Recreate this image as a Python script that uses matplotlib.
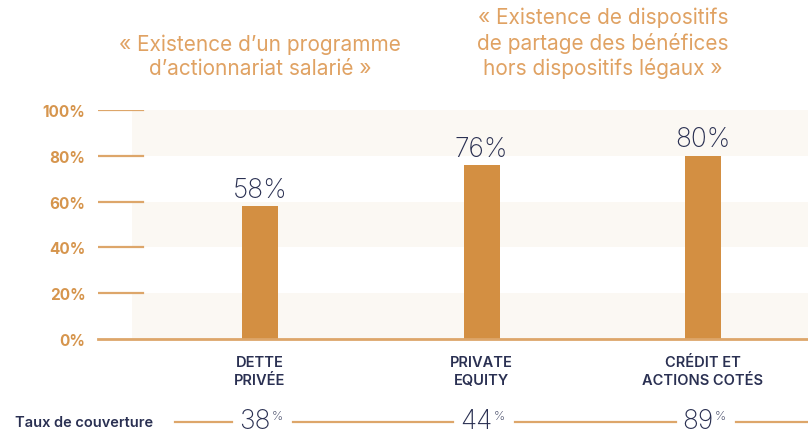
import matplotlib.pyplot as plt
from matplotlib.lines import Line2D
from matplotlib import transforms

# data
categories = ['DETTE\nPRIVÉE', 'PRIVATE\nEQUITY', 'CRÉDIT ET\nACTIONS COTÉS']
values = [58, 76, 80]
coverage = [38, 44, 89]
yticks = [0, 20, 40, 60, 80, 100]
title_left = '« Existence d\u2019un programme\nd\u2019actionnariat salarié »'
title_right = '« Existence de dispositifs\nde partage des bénéfices\nhors dispositifs légaux »'

ORANGE = '#D38F42'
LIGHT_OR = '#DDA66A'
TXT_OR = '#E0A263'
NAVY = '#2A3052'
BAND = '#FBF8F3'

plt.rcParams['font.family'] = ['Inter', 'DejaVu Sans']

W, H = 808, 435
fig = plt.figure(figsize=(W / 100, H / 100), dpi=100)
ax = fig.add_axes([98 / W, 1 - 340 / H, 1 - 98 / W, (340 - 111) / H])

x = [0, 1, 2]
# pixel 260 -> 0, 221.5 px per unit
ax.set_xlim((98 - 260) / 221.5, (808 - 260) / 221.5)
ax.set_ylim(0, 100)

# background bands
for lo, hi in [(0, 20), (40, 60), (80, 100)]:
    ax.axhspan(lo, hi, xmin=34 / 710, xmax=1, color=BAND, lw=0, zorder=0)

# short tick lines
for t in yticks[1:]:
    ax.axhline(t, xmin=0, xmax=45 / 710, color=LIGHT_OR, lw=1.6, zorder=1)
ax.axhline(0, xmin=0, xmax=1, color=LIGHT_OR, lw=2, zorder=3, clip_on=False)

ax.bar(x, values, width=36 / 221.5, color=ORANGE, zorder=2)
for xi, v in zip(x, values):
    ax.text(xi, v + 1.5, f'{v}%', ha='center', va='bottom', fontsize=19,
            fontweight='light', color=NAVY)

ax.set_yticks(yticks)
ax.set_yticklabels([f'{t}%' for t in yticks], color='#D6954D',
                   fontsize=11, fontweight='bold')
ax.tick_params(axis='y', length=0, pad=9)
ax.set_xticks([])
for s in ax.spines.values():
    s.set_visible(False)

# category labels
for xi, c in zip(x, categories):
    ax.text(xi, -7, c, ha='center', va='top', fontsize=10.5,
            fontweight='semibold', color=NAVY, linespacing=1.35)

# titles
ax.text(0, 114, title_left, ha='center', va='bottom', fontsize=15,
        fontweight='normal', color=TXT_OR, linespacing=1.25)
ax.text((603 - 260) / 221.5, 114, title_right, ha='center', va='bottom',
        fontsize=15, fontweight='normal', color=TXT_OR, linespacing=1.25)

# coverage row
yrow = 1 - 423 / H
fig.text(15 / W, yrow, 'Taux de couverture', ha='left', va='center',
         fontsize=10.5, fontweight='semibold', color=NAVY)
trans = transforms.blended_transform_factory(ax.transData, fig.transFigure)
num_tr = transforms.offset_copy(trans, fig=fig, x=11, y=1, units='dots')
pct_tr = transforms.offset_copy(trans, fig=fig, x=12, y=6, units='dots')
groups = []
for xi, c in zip(x, coverage):
    n = fig.text(xi, yrow, f'{c}', transform=num_tr, ha='right', va='center',
                 fontsize=19, fontweight='light', color=NAVY)
    p = fig.text(xi, yrow, '%', transform=pct_tr, ha='left', va='center',
                 fontsize=9, fontweight='light', color=NAVY)
    groups.append((n, p))

# line segments between the coverage numbers
fig.canvas.draw()
r = fig.canvas.get_renderer()
start = 175
for n, p in groups:
    left = n.get_window_extent(r).x0
    right = p.get_window_extent(r).x1
    fig.add_artist(Line2D([start / W, (left - 7) / W], [yrow, yrow],
                          color=LIGHT_OR, lw=1.6))
    start = right + 10
fig.add_artist(Line2D([start / W, 1], [yrow, yrow], color=LIGHT_OR, lw=1.6))

fig.savefig('out.png', dpi=100)
